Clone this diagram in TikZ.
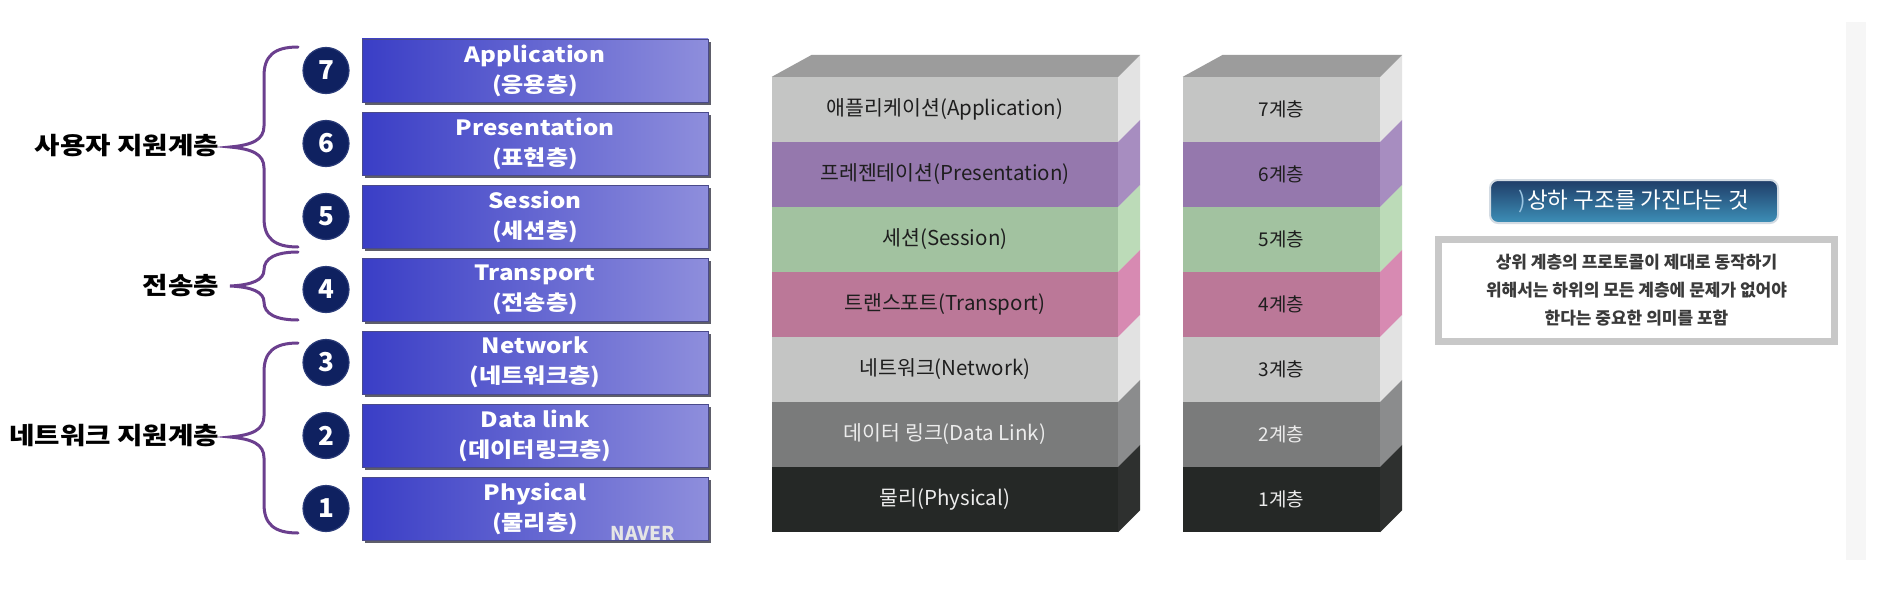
\documentclass[tikz,border=0pt]{standalone}
\usepackage{fontspec}
\setmainfont{Noto Sans CJK KR}
\newfontfamily\krwide[FakeStretch=1.15]{Noto Sans CJK KR}
\usetikzlibrary{shadows}
\definecolor{navy}{HTML}{0F2160}
\definecolor{navyedge}{HTML}{2A3B78}
\definecolor{bracec}{HTML}{6B3F8E}
\definecolor{boxL}{HTML}{3A3EC6}
\definecolor{boxR}{HTML}{8E8EDC}
\definecolor{boxEdge}{HTML}{4A4A8A}
\definecolor{shadowc}{HTML}{5E5E6A}
\definecolor{topc}{HTML}{9C9C9C}
\definecolor{c7f}{HTML}{C4C5C4}\definecolor{c7s}{HTML}{E3E3E3}
\definecolor{c6f}{HTML}{9578AD}\definecolor{c6s}{HTML}{A78DC0}
\definecolor{c5f}{HTML}{A2C2A0}\definecolor{c5s}{HTML}{BCDBB8}
\definecolor{c4f}{HTML}{BB7898}\definecolor{c4s}{HTML}{D78AB2}
\definecolor{c3f}{HTML}{C4C5C4}\definecolor{c3s}{HTML}{E2E2E2}
\definecolor{c2f}{HTML}{7A7B7B}\definecolor{c2s}{HTML}{8B8C8D}
\definecolor{c1f}{HTML}{252826}\definecolor{c1s}{HTML}{2E302F}
\definecolor{txtdark}{HTML}{1E1E1E}
\definecolor{txtlight}{HTML}{ECECEC}
\definecolor{btnTop}{HTML}{1F3C67}
\definecolor{btnBot}{HTML}{3D90B8}
\definecolor{btnEdge}{HTML}{D3DBE3}
\definecolor{infoEdge}{HTML}{C8C8C8}
\definecolor{infoTxt}{HTML}{3A3A3A}
\definecolor{chev}{HTML}{9CC6E2}
\definecolor{faint}{HTML}{F6F6F6}
\tikzset{
  lbox/.style={minimum width=346pt, minimum height=63pt, inner sep=0pt,
    left color=boxL, right color=boxR, draw=boxEdge, line width=0.6pt,
    drop shadow={shadow xshift=3pt, shadow yshift=-3pt, fill=shadowc, opacity=1},
    text=white, align=center, font=\krwide\bfseries\fontsize{21}{30}\selectfont},
  circ/.style={circle, fill=navy, draw=navyedge, line width=1.2pt, minimum size=46pt,
    inner sep=0pt, text=white, font=\bfseries\fontsize{26}{26}\selectfont},
  bracepath/.style={draw=bracec, line width=3pt, line cap=round},
  blabel/.style={anchor=east, inner sep=0pt, text=black, font=\krwide\bfseries\fontsize{24}{24}\selectfont},
  layer/.style={minimum width=346pt, minimum height=65pt, inner sep=0pt, font=\fontsize{20.5}{20.5}\selectfont},
  rlayer/.style={minimum width=197pt, minimum height=65pt, inner sep=0pt, font=\fontsize{19}{19}\selectfont},
  btn/.style={minimum width=288pt, minimum height=43pt, rounded corners=8pt, inner sep=0pt,
    top color=btnTop, bottom color=btnBot, draw=btnEdge, line width=2pt,
    text=white, font=\fontsize{22.5}{22.5}\selectfont},
  infobox/.style={minimum width=396pt, minimum height=102pt, inner sep=0pt, fill=white,
    draw=infoEdge, line width=7pt, align=center, text=infoTxt,
    font=\bfseries\fontsize{17}{28}\selectfont}
}
\begin{document}
\begin{tikzpicture}[x=1pt,y=-1pt]
\useasboundingbox (0,0) rectangle (1894,602);
\fill[white] (0,0) rectangle (1894,602);
\fill[faint] (1846,22) rectangle (1866,560);

% ---------- left: OSI boxes ----------
\foreach \n/\yc/\a/\b in {7/70.5/Application/(응용층),6/143.5/Presentation/(표현층),5/216.5/Session/(세션층),4/289.5/Transport/(전송층),3/362.5/Network/(네트워크층),2/435.5/Data link/(데이터링크층),1/508.5/Physical/(물리층)}{
  \node[lbox] (L\n) at (535,\yc) {\a\\\b};
  \node[circ] (C\n) at (326,\yc) {\n};
}
\node[text=white!80!gray, font=\bfseries\fontsize{19}{19}\selectfont, inner sep=0pt] (wm) at (643,533) {NAVER};

% braces
\draw[bracepath] (298,47) .. controls (274,47) and (264,56) .. (264,76) -- (264,126)
  .. controls (264,140) and (252,145) .. (230,147)
  .. controls (252,149) and (264,154) .. (264,168) -- (264,218)
  .. controls (264,238) and (274,247) .. (298,247);
\draw[bracepath] (298,252) .. controls (276,252) and (264,258) .. (264,270)
  .. controls (264,280) and (252,285) .. (230,286)
  .. controls (252,287) and (264,292) .. (264,302)
  .. controls (264,314) and (276,320) .. (298,320);
\draw[bracepath] (298,343) .. controls (274,343) and (264,352) .. (264,372) -- (264,416)
  .. controls (264,430) and (252,435) .. (230,437)
  .. controls (252,439) and (264,444) .. (264,458) -- (264,504)
  .. controls (264,524) and (274,533) .. (298,533);
\node[blabel] (B1) at (219,146) {사용자 지원계층};
\node[blabel] (B2) at (219,286) {전송층};
\node[blabel] (B3) at (219,436) {네트워크 지원계층};

% ---------- middle stack ----------
\foreach \n/\yc/\f/\s/\tc/\lab in {7/109.5/c7f/c7s/txtdark/애플리케이션(Application),6/174.5/c6f/c6s/txtdark/프레젠테이션(Presentation),5/239.5/c5f/c5s/txtdark/세션(Session),4/304.5/c4f/c4s/txtdark/트랜스포트(Transport),3/369.5/c3f/c3s/txtdark/네트워크(Network),2/434.5/c2f/c2s/txtlight/데이터 링크(Data Link),1/499.5/c1f/c1s/txtlight/물리(Physical)}{
  \node[layer, fill=\f, text=\tc] (M\n) at (945,\yc) {\lab};
  \fill[\s] (M\n.north east) -- ++(22,-22) -- ([shift={(22,-22)}]M\n.south east) -- (M\n.south east) -- cycle;
  \node[rlayer, fill=\f, text=\tc] (R\n) at (1281.5,\yc) {\n{}계층};
  \fill[\s] (R\n.north east) -- ++(22,-22) -- ([shift={(22,-22)}]R\n.south east) -- (R\n.south east) -- cycle;
}
\fill[topc] (M7.north west) -- ++(40,-22) -- ([shift={(22,-22)}]M7.north east) -- (M7.north east) -- cycle;
\fill[topc] (R7.north west) -- ++(40,-22) -- ([shift={(22,-22)}]R7.north east) -- (R7.north east) -- cycle;

% ---------- right: title and note ----------
\node[btn] (T) at (1634,201.5) {{\color{chev})}\kern1pt 상하 구조를 가진다는 것};
\node[infobox] (I) at (1636.5,290.5) {상위 계층의 프로토콜이 제대로 동작하기\\위해서는 하위의 모든 계층에 문제가 없어야\\한다는 중요한 의미를 포함};
\end{tikzpicture}
\end{document}
